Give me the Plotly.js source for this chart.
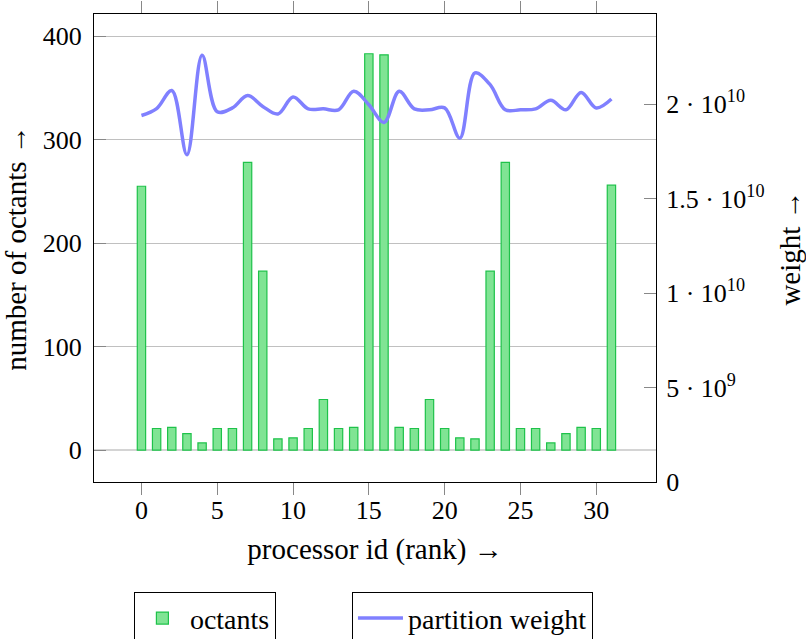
<!DOCTYPE html>
<html>
<head>
<meta charset="utf-8">
<script src="https://cdn.plot.ly/plotly-3.0.1.min.js"></script>
<style>html,body{margin:0;padding:0;background:#fff;}#chart{width:806px;height:639px;}</style>
</head>
<body>
<div id="chart"></div>
<script>
const ranks = [0,1,2,3,4,5,6,7,8,9,10,11,12,13,14,15,16,17,18,19,20,21,22,23,24,25,26,27,28,29,30,31];
const octants = [255,21,22,16,7,21,21,278,173,11,12,21,49,21,22,383,382,22,21,49,21,12,11,173,278,21,21,7,16,22,21,256];
const weights = [1.94e10,1.976e10,2.072e10,1.732e10,2.259e10,1.96e10,1.98e10,2.045e10,1.988e10,1.948e10,2.038e10,1.975e10,1.975e10,1.97e10,2.068e10,1.997e10,1.903e10,2.068e10,1.975e10,1.97e10,1.98e10,1.82e10,2.165e10,2.103e10,1.97e10,1.97e10,1.975e10,2.02e10,1.97e10,2.062e10,1.98e10,2.027e10];
const xTicks = [0,5,10,15,20,25,30];
const yTicks = [0,100,200,300,400];
const y2Ticks = [0,5e9,1e10,1.5e10,2e10];
const y2TickText = ['0','5 · 10<sup>9</sup>','1 · 10<sup>10</sup>','1.5 · 10<sup>10</sup>','2 · 10<sup>10</sup>'];

const FONT = 'Liberation Serif, Times New Roman, serif';
const FS = 26;   // tick labels
const TS = 29;   // axis titles
const LS = 28;   // legend

const traces = [
  {
    type: 'bar', x: ranks, y: octants, name: 'octants', width: 0.55,
    marker: {color: '#80e494', line: {color: '#1ec24a', width: 1.2}},
    yaxis: 'y', legend: 'legend'
  },
  {
    type: 'scatter', mode: 'lines', x: ranks, y: weights, name: 'partition weight',
    line: {color: '#8080ff', width: 3.5, shape: 'spline', smoothing: 1},
    yaxis: 'y2', legend: 'legend2'
  }
];

const layout = {
  width: 806, height: 639,
  margin: {l: 94, r: 150, t: 14, b: 157},
  paper_bgcolor: '#fff', plot_bgcolor: '#fff',
  font: {family: FONT, size: FS, color: '#000'},
  showlegend: true,
  xaxis: {
    range: [-3.13, 33.94], tickvals: xTicks, ticktext: xTicks.map(String),
    ticks: 'outside', ticklen: 12, tickcolor: '#888', tickwidth: 1,
    showline: true, linecolor: '#000', linewidth: 1, mirror: 'ticks',
    showgrid: false, zeroline: false,
    ticklabelstandoff: -7,
    tickfont: {size: FS},
    title: {text: 'processor id (rank) →', standoff: 14, font: {size: TS}}
  },
  yaxis: {
    range: [-30.7, 421.4], tickvals: yTicks, ticktext: yTicks.map(String),
    ticks: 'inside', ticklen: 12, tickcolor: '#888', tickwidth: 1,
    showline: true, linecolor: '#000', linewidth: 1, mirror: true,
    showgrid: true, gridcolor: '#c0c0c0', gridwidth: 1,
    zeroline: true, zerolinecolor: '#d4d4d4', zerolinewidth: 2,
    ticklabelstandoff: 6,
    tickfont: {size: FS},
    title: {text: 'number of octants →', standoff: 12, font: {size: TS}}
  },
  yaxis2: {
    overlaying: 'y', side: 'right',
    range: [0, 2.477e10], tickvals: y2Ticks, ticktext: y2TickText,
    ticks: 'inside', ticklen: 12, tickcolor: '#888', tickwidth: 1,
    showline: true, linecolor: '#000', linewidth: 1,
    showgrid: false, zeroline: false,
    ticklabelstandoff: 4,
    tickfont: {size: FS},
    title: {text: 'weight →', standoff: 24, font: {size: TS}}
  },
  legend: {
    xref: 'paper', yref: 'container',
    x: 0.071, y: 0.073, xanchor: 'left', yanchor: 'top', orientation: 'h',
    itemwidth: 45,
    bgcolor: '#fff', bordercolor: '#000', borderwidth: 1,
    font: {family: FONT, size: LS}
  },
  legend2: {
    xref: 'paper', yref: 'container',
    x: 0.459, y: 0.073, xanchor: 'left', yanchor: 'top', orientation: 'h',
    itemwidth: 45,
    bgcolor: '#fff', bordercolor: '#000', borderwidth: 1,
    font: {family: FONT, size: LS}
  }
};

Plotly.newPlot('chart', traces, layout, {displayModeBar: false, staticPlot: true});
</script>
</body>
</html>
